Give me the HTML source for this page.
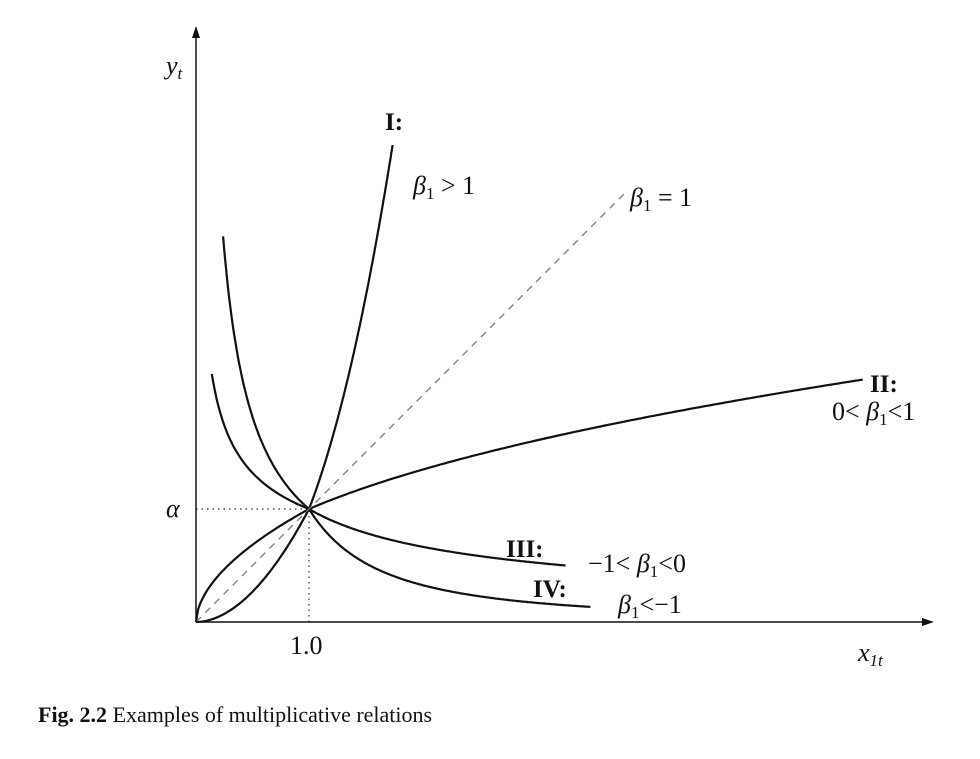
<!DOCTYPE html>
<html><head><meta charset="utf-8"><style>
body{margin:0;background:#fff;}
svg text{font-family:"Liberation Serif",serif;fill:#111;}
</style></head><body>
<svg width="980" height="754" viewBox="0 0 980 754">
<g id="g"></g>
<text x="166" y="74" font-size="26" font-style="italic">y<tspan font-size="17" dy="5">t</tspan></text>
<text x="858" y="661" font-size="26" font-style="italic">x<tspan font-size="17" dy="5">1t</tspan></text>
<text x="290" y="654" font-size="26">1.0</text>
<text x="166" y="517" font-size="26" font-style="italic">α</text>
<text x="385" y="130" font-size="25" font-weight="bold">I:</text>
<text x="413" y="194" font-size="26"><tspan font-style="italic">β</tspan><tspan font-size="17" dy="5">1</tspan><tspan dy="-5"> &gt; 1</tspan></text>
<text x="630" y="206" font-size="26"><tspan font-style="italic">β</tspan><tspan font-size="17" dy="5">1</tspan><tspan dy="-5"> = 1</tspan></text>
<text x="870" y="392" font-size="25" font-weight="bold">II:</text>
<text x="832" y="420" font-size="26">0&lt; <tspan font-style="italic">β</tspan><tspan font-size="17" dy="5">1</tspan><tspan dy="-5">&lt;1</tspan></text>
<text x="506" y="557" font-size="25" font-weight="bold">III:</text>
<text x="588" y="572" font-size="26">−1&lt; <tspan font-style="italic">β</tspan><tspan font-size="17" dy="5">1</tspan><tspan dy="-5">&lt;0</tspan></text>
<text x="533" y="597" font-size="25" font-weight="bold">IV:</text>
<text x="618" y="613" font-size="26"><tspan font-style="italic">β</tspan><tspan font-size="17" dy="5">1</tspan><tspan dy="-5">&lt;−1</tspan></text>
<text x="38" y="722" font-size="22"><tspan font-weight="bold">Fig. 2.2</tspan>  Examples of multiplicative relations</text>
</svg>
<script>
const curveNames=["curve-I","curve-II","curve-III","curve-IV","curve-beta-one"];
const betasLeft=[1.9,0.55,-0.40,-0.86,1];
const betasRight=[2.6,0.43,-0.585,-1.61,1];
const xStarts=[0,0,0.14,0.24,0];
const xEnds=[1.74,5.9,3.27,3.49,3.8];
const dashed=[false,false,false,false,true];
const alphaVal=1;
const ox=196,oy=622,unit=113;
const X=x=>ox+x*unit, Y=y=>oy-y*unit;
const g=document.getElementById('g');
const NS='http://www.w3.org/2000/svg';
function add(tag,attrs){const e=document.createElementNS(NS,tag);for(const k in attrs)e.setAttribute(k,attrs[k]);g.appendChild(e);return e;}
let a=add('line',{x1:ox,y1:Y(alphaVal),x2:X(1),y2:Y(alphaVal),stroke:'#333','stroke-dasharray':'1.5 4','stroke-width':1.2});


let b=add('line',{x1:X(1),y1:oy,x2:X(1),y2:Y(alphaVal),stroke:'#333','stroke-dasharray':'1.5 4','stroke-width':1.2});


for(let i=0;i<curveNames.length;i++){
 let d='';const n=300;
 for(let k=0;k<=n;k++){const x=xStarts[i]+(xEnds[i]-xStarts[i])*k/n;const be=x<1?betasLeft[i]:betasRight[i];const y=x<=0?0:alphaVal*Math.pow(x,be);d+=(k?'L':'M')+X(x).toFixed(1)+' '+Y(y).toFixed(1);}
 const p=add('path',{d:d,fill:'none',stroke:dashed[i]?'#777':'#111','stroke-width':dashed[i]?1.3:2.2});
 if(dashed[i])p.setAttribute('stroke-dasharray','7 6');
 
 
}
const ax=add('path',{d:`M${ox} ${oy}L${ox} 32M${ox} ${oy}L928 ${oy}`,stroke:'#111','stroke-width':1.5,fill:'none'});


const ar=add('path',{d:`M${ox-4} 38L${ox} 26L${ox+4} 38ZM922 ${oy-4}L934 ${oy}L922 ${oy+4}Z`,fill:'#111'});


</script>
</body></html>
